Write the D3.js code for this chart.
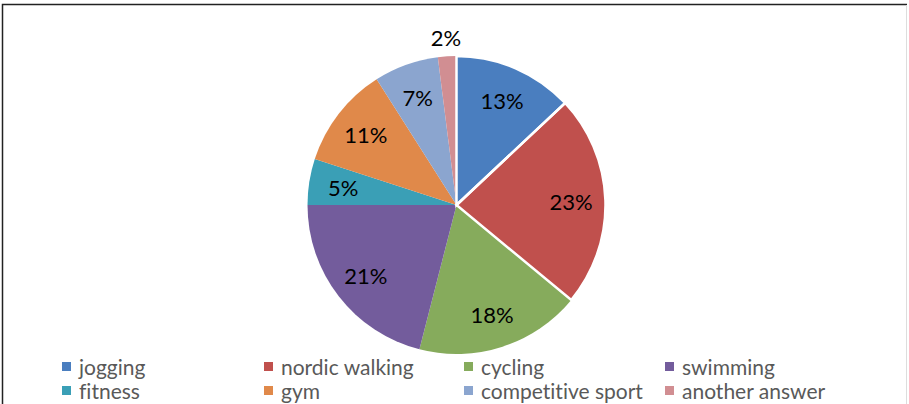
<!DOCTYPE html>
<html><head><meta charset="utf-8">
<script src="https://cdn.jsdelivr.net/npm/d3@7"></script>
<style>body{margin:0;background:#fff}svg{display:block}text{font-variant-ligatures:none;font-feature-settings:"liga" 0}</style>
</head><body>
<script>
const categories = ["jogging","nordic walking","cycling","swimming","fitness","gym","competitive sport","another answer"];
const values = [13,23,18,21,5,11,7,2];
const colors = ["#4A7EBF","#C0504D","#86AB5C","#735C9C","#3A9FB6","#E0894A","#8BA5CF","#D18E92"];

const W=909,H=404;
const svg=d3.select("body").append("svg").attr("width",W).attr("height",H);
svg.append("rect").attr("x",0).attr("y",0).attr("width",W).attr("height",H).attr("fill","#fff");
// frame
svg.append("path").attr("d",`M2.5,${H} V4.5 H${W-2}`).attr("fill","none").attr("stroke","#222").attr("stroke-width",1.5);
svg.append("line").attr("x1",W-2.5).attr("x2",W-2.5).attr("y1",5).attr("y2",H).attr("stroke","#ddd").attr("stroke-width",1);

const cx=456.5, cy=205, r=149;
const pie=d3.pie().sort(null).value(d=>d.v);
const data=pie(categories.map((c,i)=>({c,v:values[i],col:colors[i]})));
const arc=d3.arc().innerRadius(0).outerRadius(r);
const g=svg.append("g").attr("transform",`translate(${cx},${cy})`);
g.selectAll("path.s").data(data).join("path").attr("class","s")
  .attr("d",arc).attr("fill",d=>d.data.col);
// white borders on first two slices
g.selectAll("path.b").data(data.slice(0,2)).join("path").attr("class","b")
  .attr("d",arc).attr("fill","none").attr("stroke","#fff").attr("stroke-width",2.5).attr("stroke-linejoin","miter");

const labelArc=d3.arc().innerRadius(r*0.77).outerRadius(r*0.77);
const outArc=d3.arc().innerRadius(r*1.13).outerRadius(r*1.13);
g.selectAll("text.l").data(data).join("text").attr("class","l")
  .attr("transform",d=>`translate(${(d.data.v<3?outArc:labelArc).centroid(d)})`)
  .attr("text-anchor","middle").attr("dy","0.4em")
  .attr("font-family","Lato, sans-serif").attr("font-size",22).attr("fill","#000")
  .text(d=>d.data.v+"%");

// legend
const colX=[62,264,464,665], rowY=[367,391];
const lg=svg.append("g");
categories.forEach((c,i)=>{
  const x=colX[i%4], y=rowY[Math.floor(i/4)];
  lg.append("rect").attr("x",x).attr("y",y-5).attr("width",9).attr("height",9).attr("fill",colors[i]);
  lg.append("text").attr("x",x+17).attr("y",y).attr("dy","0.36em")
    .attr("font-family","Lato, sans-serif").attr("font-size",21).attr("fill","#595959").text(c);
});
</script>
</body></html>
